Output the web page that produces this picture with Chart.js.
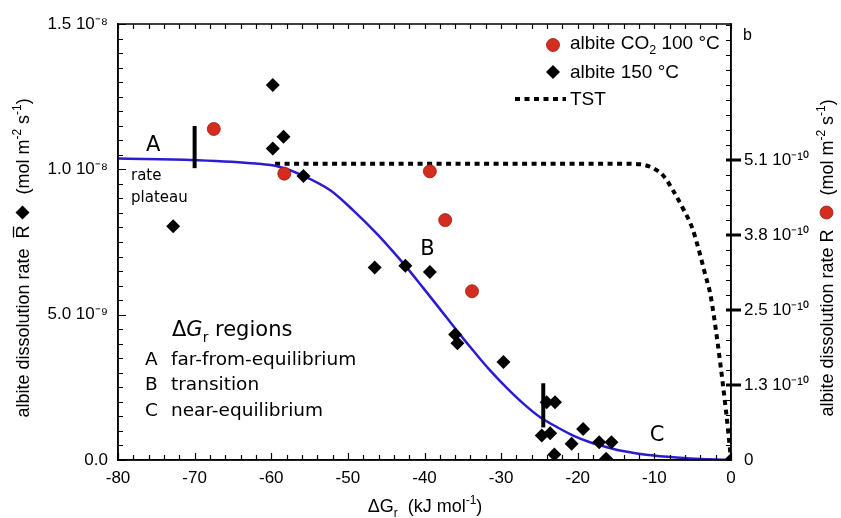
<!DOCTYPE html>
<html><head><meta charset="utf-8">
<script src="https://cdn.jsdelivr.net/npm/chart.js@4/dist/chart.umd.min.js"></script>
<style>html,body{margin:0;padding:0;background:#fff}#wrap{width:841px;height:518px;position:relative}</style>
</head><body><div id="wrap"><canvas id="c"></canvas></div>
<script>
// ---- data ----
const diamondX = [-72.8,-59.8,-58.4,-59.8,-55.8,-46.5,-42.5,-39.3,-36.0,-35.7,-29.7,-24.05,-22.97,-24.7,-23.6,-23.05,-20.8,-19.3,-17.2,-16.3,-15.6,0];
const diamondY = [8.04e-9,12.90e-9,11.12e-9,10.72e-9,9.77e-9,6.62e-9,6.68e-9,6.47e-9,4.32e-9,4.02e-9,3.37e-9,1.99e-9,1.99e-9,0.84e-9,0.92e-9,0.19e-9,0.56e-9,1.07e-9,0.61e-9,0.04e-9,0.61e-9,0];
const circleX = [-67.5,-58.3,-39.3,-37.3,-33.8];
const circleY = [5.63e-10,4.87e-10,4.91e-10,4.08e-10,2.87e-10];
const fitX = [-80,-70,-62,-59,-56,-52.3,-49.3,-46.2,-44.1,-42.3,-40.2,-38.0,-35.8,-33.6,-31.5,-29.3,-27.1,-24.9,-22.7,-20.6,-18.4,-16.2,-14.5,-10.1,-5.8,-3,0];
const fitY = [10.37e-9,10.32e-9,10.20e-9,10.09e-9,9.80e-9,9.28e-9,8.59e-9,7.78e-9,7.17e-9,6.62e-9,5.93e-9,5.20e-9,4.46e-9,3.75e-9,3.10e-9,2.49e-9,1.94e-9,1.47e-9,1.13e-9,0.84e-9,0.61e-9,0.44e-9,0.33e-9,0.155e-9,0.06e-9,0.025e-9,0];
const tstX = [-59.5,-40,-20,-14,-11.9,-10.1,-8.8,-7.5,-6.2,-5.1,-4.3,-3.4,-2.7,-2.2,-1.7,-1.1,-0.65,-0.35,0];
const tstY = [5.04e-10,5.04e-10,5.04e-10,5.04e-10,5.03e-10,4.96e-10,4.83e-10,4.57e-10,4.26e-10,3.96e-10,3.62e-10,3.17e-10,2.82e-10,2.42e-10,1.95e-10,1.33e-10,0.83e-10,0.47e-10,0];
const plateauBarX = [-70,-70];
const plateauBarY = [10.04e-9,11.49e-9];
const nearEqBarX = [-24.5,-24.5];
const nearEqBarY = [1.12e-9,2.64e-9];
const xTickValues = [-80,-70,-60,-50,-40,-30,-20,-10,0];
const leftTickValues = [0,5e-9,1e-8,1.5e-8];
const leftTickLabels = ['0.0','5.0 10⁻⁹','1.0 10⁻⁸','1.5 10⁻⁸'];
const rightTickValues = [0,1.275e-10,2.55e-10,3.825e-10,5.1e-10];
const rightTickLabels = ['0','1.3 10⁻¹⁰','2.5 10⁻¹⁰','3.8 10⁻¹⁰','5.1 10⁻¹⁰'];
const seriesNames = ['albite CO', '2', ' 100 °C', 'albite 150 °C', 'TST'];

const RED = '#d42c1f', BLUE = '#2c1ccf';
const SANS = '"Liberation Sans", Arial, sans-serif';
const DV = '"DejaVu Sans", sans-serif';

function pts(xs, ys){ return xs.map((x,i)=>({x, y: ys[i]})); }

function drawDiamond(ctx, x, y, r){ ctx.save(); ctx.fillStyle='#000'; ctx.beginPath(); ctx.moveTo(x,y-r); ctx.lineTo(x+r,y); ctx.lineTo(x,y+r); ctx.lineTo(x-r,y); ctx.closePath(); ctx.fill(); ctx.restore(); }
function drawDot(ctx, x, y, r){ ctx.save(); ctx.fillStyle=RED; ctx.strokeStyle='#9a1a10'; ctx.lineWidth=0.8; ctx.beginPath(); ctx.arc(x,y,r,0,Math.PI*2); ctx.fill(); ctx.stroke(); ctx.restore(); }

function segFont(s, size, family){
  const fs = (s.sup||s.sub) ? size*0.66 : size;
  return (s.italic?'italic ':'') + fs.toFixed(1) + 'px ' + (s.family||family);
}
function richWidth(ctx, segs, size, family){
  let w=0;
  for(const s of segs){ if(s.marker){ w+=s.w; continue; } ctx.font=segFont(s,size,family); w+=ctx.measureText(s.t).width; }
  return w;
}
function drawRich(ctx, x, y, segs, size, family, align){
  const total = richWidth(ctx, segs, size, family);
  let cx = align==='center' ? x-total/2 : (align==='right' ? x-total : x);
  ctx.textAlign='left'; ctx.textBaseline='alphabetic';
  for(const s of segs){
    if(s.marker){ s.marker(ctx, cx+s.w/2, y-size*0.36); cx+=s.w; continue; }
    ctx.font=segFont(s,size,family);
    ctx.fillStyle=s.color||'#000';
    const dy = s.sup ? -size*0.42 : (s.sub ? size*0.28 : 0);
    ctx.fillText(s.t, cx, y+dy);
    const w = ctx.measureText(s.t).width;
    if(s.bar){ ctx.save(); ctx.strokeStyle='#000'; ctx.lineWidth=1.3; ctx.beginPath(); ctx.moveTo(cx+1, y-size*0.86); ctx.lineTo(cx+w-1, y-size*0.86); ctx.stroke(); ctx.restore(); }
    cx+=w;
  }
}

const decorPlugin = {
  id:'decor',
  afterDatasetsDraw(chart){
    const ctx = chart.ctx, a = chart.chartArea;
    const sx = chart.scales.x, sy = chart.scales.y, sy2 = chart.scales.y2;
    ctx.save();
    // frame
    ctx.strokeStyle='#000'; ctx.lineWidth=1.5;
    ctx.strokeRect(a.left, a.top, a.right-a.left, a.bottom-a.top);
    // x minor ticks (bottom & top, inward)
    ctx.lineWidth=1.2;
    ctx.beginPath();
    for(let v=-80; v<=0; v+=2){
      const p = Math.round(sx.getPixelForValue(v))+0.5;
      const L = (v%10===0)?7:5;
      ctx.moveTo(p,a.bottom); ctx.lineTo(p,a.bottom-L);
      ctx.moveTo(p,a.top); ctx.lineTo(p,a.top+5);
    }
    // left minor ticks
    for(let i=0;i<=30;i++){
      const p = Math.round(sy.getPixelForValue(i*5e-10))+0.5;
      const L = (i%10===0)?8:5;
      ctx.moveTo(a.left,p); ctx.lineTo(a.left+L,p);
    }
    // right minor ticks
    for(let i=0;i*0.255e-10<=sy2.max;i++){
      const p = Math.round(sy2.getPixelForValue(i*0.255e-10))+0.5;
      ctx.moveTo(a.right,p); ctx.lineTo(a.right-5,p);
    }
    ctx.stroke();
    // right major ticks (outward, thick)
    ctx.lineWidth=3; ctx.beginPath();
    for(const v of rightTickValues){ if(v===0) continue; const p=sy2.getPixelForValue(v); ctx.moveTo(a.right-5,p); ctx.lineTo(a.right+10,p); }
    ctx.stroke();

    // region letters
    ctx.fillStyle='#000'; ctx.textAlign='center'; ctx.textBaseline='middle';
    ctx.font='21px '+DV;
    ctx.fillText('A', sx.getPixelForValue(-75.4), sy.getPixelForValue(10.83e-9));
    ctx.fillText('B', sx.getPixelForValue(-39.6), sy.getPixelForValue(7.25e-9));
    ctx.fillText('C', sx.getPixelForValue(-9.65), sy.getPixelForValue(0.83e-9));
    ctx.textAlign='left'; ctx.font='15px '+DV;
    ctx.fillText('rate', 131, 176);
    ctx.fillText('plateau', 131, 198);
    // regions box
    drawRich(ctx, 172, 336, [{t:'Δ'},{t:'G',italic:true},{t:'r',sub:true},{t:' regions'}], 21, DV, 'left');
    ctx.font='18.5px '+DV; ctx.textBaseline='middle';
    const rows=[['A','far-from-equilibrium'],['B','transition'],['C','near-equilibrium']];
    rows.forEach((r,i)=>{ ctx.fillText(r[0],145,360+i*25.5); ctx.fillText(r[1],171,360+i*25.5); });

    // legend
    drawDot(ctx, 553, 45, 6.5);
    drawRich(ctx, 570, 49, [{t:seriesNames[0]},{t:seriesNames[1],sub:true},{t:seriesNames[2]}], 19, SANS, 'left');
    drawDiamond(ctx, 553, 72, 7);
    drawRich(ctx, 570, 78, [{t:seriesNames[3]}], 19, SANS, 'left');
    ctx.save(); ctx.strokeStyle='#000'; ctx.lineWidth=4; ctx.setLineDash([5,4.5]); ctx.beginPath(); ctx.moveTo(515,99); ctx.lineTo(566,99); ctx.stroke(); ctx.restore();
    drawRich(ctx, 570, 105, [{t:seriesNames[4]}], 19, SANS, 'left');
    // panel letter
    ctx.font='16px '+SANS; ctx.textBaseline='middle'; ctx.fillStyle='#000';
    ctx.fillText('b', 743, 36);

    // x title
    drawRich(ctx, 425, 512, [{t:'ΔG'},{t:'r',sub:true},{t:'  (kJ mol'},{t:'-1',sup:true},{t:')'}], 18, SANS, 'center');
    // left title
    ctx.save(); ctx.translate(22,258); ctx.rotate(-Math.PI/2);
    drawRich(ctx, 0, 7, [{t:'albite dissolution rate  '},{t:'R',bar:true},{t:' '},{marker:(c,x,y)=>drawDiamond(c,x,y,7),w:16},{t:'  (mol m'},{t:'-2',sup:true},{t:' s'},{t:'-1',sup:true},{t:')'}], 18, SANS, 'center');
    ctx.restore();
    // right title
    ctx.save(); ctx.translate(826,258); ctx.rotate(-Math.PI/2);
    drawRich(ctx, 0, 7, [{t:'albite dissolution rate R  '},{marker:(c,x,y)=>drawDot(c,x,y,6.5),w:14},{t:'  (mol m'},{t:'-2',sup:true},{t:' s'},{t:'-1',sup:true},{t:')'}], 18, SANS, 'center');
    ctx.restore();
    ctx.restore();
  }
};

new Chart(document.getElementById('c'), {
  type:'scatter',
  data:{ datasets:[
    {label:'albite 150 °C', data:pts(diamondX,diamondY), yAxisID:'y', pointStyle:'rectRot', pointRadius:7, backgroundColor:'#000', borderColor:'#000', borderWidth:0, showLine:false},
    {label:'albite CO2 100 °C', data:pts(circleX,circleY), yAxisID:'y2', pointStyle:'circle', pointRadius:6.5, backgroundColor:RED, borderColor:'#9a1a10', borderWidth:0.8, showLine:false},
    {label:'plateau bar', data:pts(plateauBarX,plateauBarY), yAxisID:'y', showLine:true, borderColor:'#000', borderWidth:4, pointRadius:0, borderCapStyle:'butt'},
    {label:'near-eq bar', data:pts(nearEqBarX,nearEqBarY), yAxisID:'y', showLine:true, borderColor:'#000', borderWidth:4, pointRadius:0, borderCapStyle:'butt'},
    {label:'fit', data:pts(fitX,fitY), yAxisID:'y', showLine:true, borderColor:BLUE, borderWidth:2.5, pointRadius:0, cubicInterpolationMode:'monotone'},
    {label:'TST', data:pts(tstX,tstY), yAxisID:'y2', showLine:true, borderColor:'#000', borderWidth:4, borderDash:[5,4.5], pointRadius:0, cubicInterpolationMode:'monotone', borderCapStyle:'butt'}
  ]},
  options:{
    responsive:true, maintainAspectRatio:false, animation:false,
    layout:{padding:{top:24,left:0,right:0,bottom:0}},
    plugins:{legend:{display:false}, tooltip:{enabled:false}},
    scales:{
      x:{type:'linear', min:-80, max:0, position:'bottom',
         afterFit(s){ s.height=58; },
         afterBuildTicks(s){ s.ticks = xTickValues.map(v=>({value:v})); },
         grid:{display:false, drawTicks:false}, border:{display:true,color:'#000',width:1.5},
         ticks:{color:'#000', padding:8, font:{family:SANS,size:17}, maxRotation:0, callback:(v)=>String(v)}},
      y:{type:'linear', min:0, max:1.5e-8, position:'left',
         afterFit(s){ s.width=118; },
         afterBuildTicks(s){ s.ticks = leftTickValues.map(v=>({value:v})); },
         grid:{display:false, drawTicks:false}, border:{display:true,color:'#000',width:1.5},
         ticks:{color:'#000', padding:10, font:{family:SANS,size:17}, callback:(v)=>{const i=leftTickValues.findIndex(t=>Math.abs(t-v)<1e-12); return i>=0?leftTickLabels[i]:'';}}},
      y2:{type:'linear', min:0, max:7.415e-10, position:'right',
         afterFit(s){ s.width=110; },
         afterBuildTicks(s){ s.ticks = rightTickValues.map(v=>({value:v})); },
         grid:{display:false, drawTicks:false}, border:{display:true,color:'#000',width:1.5},
         ticks:{color:'#000', padding:13, font:{family:SANS,size:17}, callback:(v)=>{const i=rightTickValues.findIndex(t=>Math.abs(t-v)<1e-14); return i>=0?rightTickLabels[i]:'';}}}
    }
  },
  plugins:[decorPlugin]
});
</script></body></html>
